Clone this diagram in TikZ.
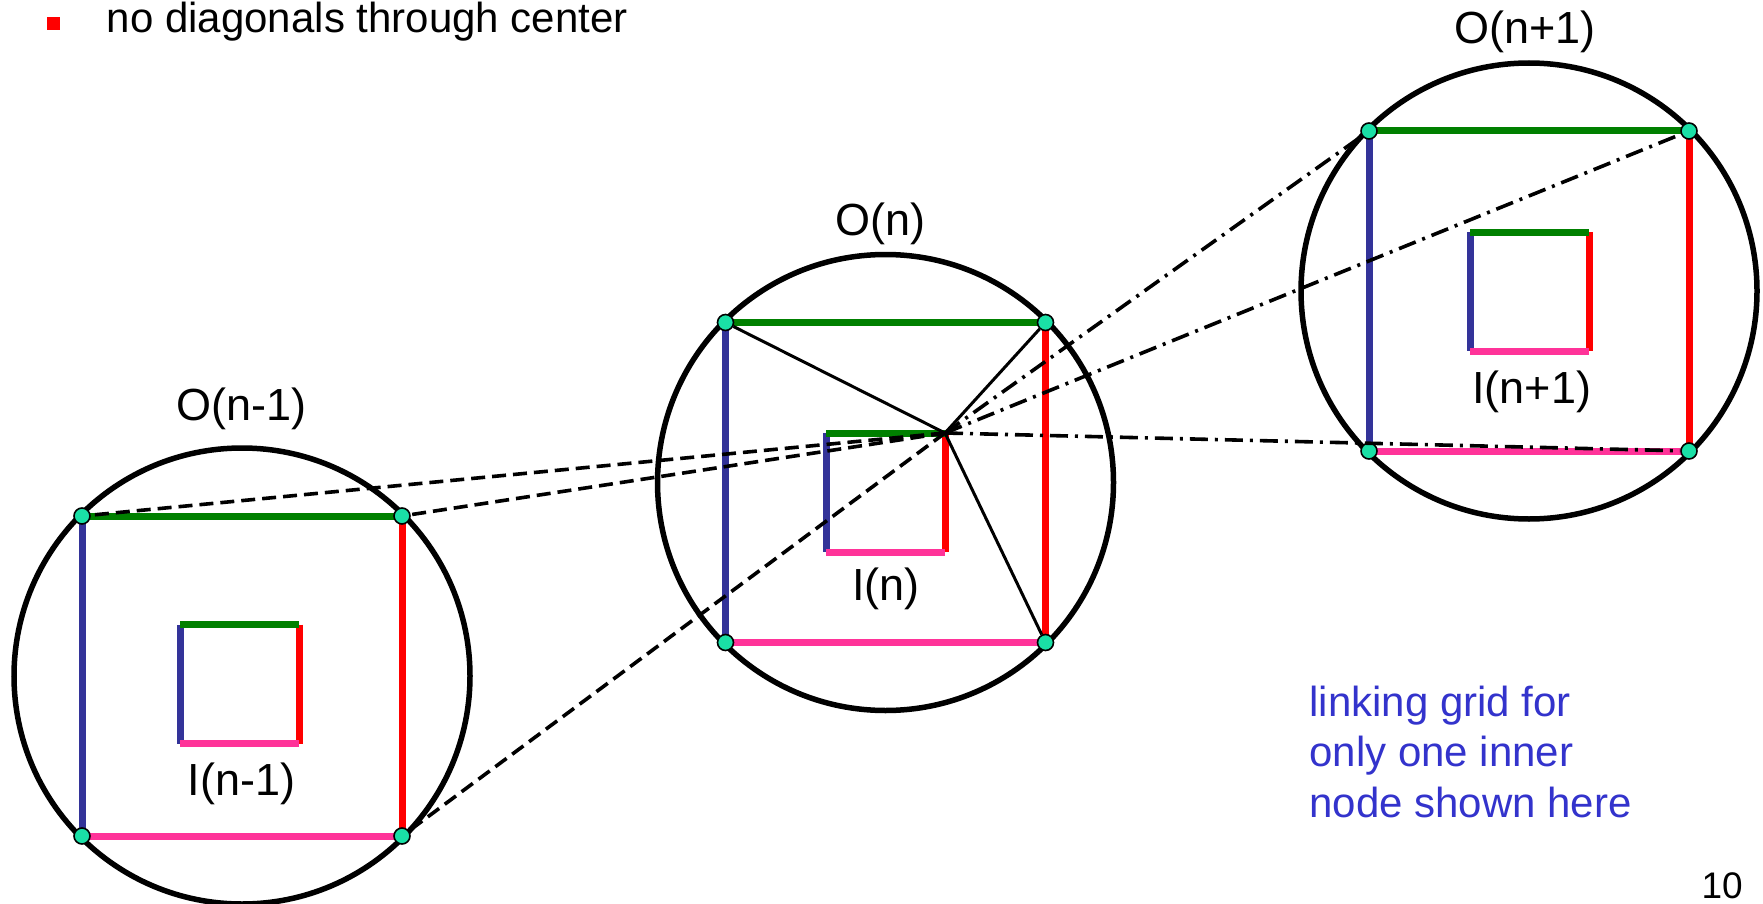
\documentclass[tikz,border=0pt]{standalone}
\usepackage{fontspec}
\setmainfont{Liberation Sans}
\usetikzlibrary{calc}

\definecolor{gridgreen}{RGB}{0,128,0}
\definecolor{gridblue}{RGB}{51,51,153}
\definecolor{gridred}{RGB}{255,0,0}
\definecolor{gridpink}{RGB}{255,51,153}
\definecolor{dotteal}{RGB}{26,224,166}
\definecolor{noteblue}{RGB}{51,51,204}

\begin{document}
\begin{tikzpicture}[
  x=1pt, y=-1pt,
  ring/.style={draw, line width=5.5pt},
  edge/.style={line width=7pt},
  cornerdot/.style={circle, draw=black, line width=1.6pt, fill=dotteal, inner sep=0pt, minimum size=16pt},
  spoke/.style={draw, line width=3pt},
  prevlink/.style={draw, line width=3.6pt, dash pattern=on 14pt off 7pt},
  nextlink/.style={draw, line width=3.6pt, dash pattern=on 18pt off 7pt on 3pt off 7pt},
  lbl/.style={font=\fontsize{45}{54}\selectfont, inner sep=0pt, anchor=base},
]
\useasboundingbox (0,0) rectangle (1763,904);

% === TITLE LINE ===
\node[fill=red, minimum size=13pt, inner sep=0pt] (bullet) at (53.5,24) {};
\node[anchor=base west, inner sep=0pt, font=\fontsize{42}{50}\selectfont] (title) at (106.7,32.7) {no diagonals through center};

% === THREE LEVELS: outer ring O, outer square, inner square I ===
\foreach \nm/\cx/\cy/\ix/\iy in {L/242/676/239.5/684, M/885.5/482.5/885.5/492.5, R/1529/291/1529.5/291.5} {
  \coordinate (\nm) at (\cx,\cy);
  \draw[ring] (\nm) circle[radius=228pt];
  % outer square
  \coordinate (\nm-tl) at (\cx-160,\cy-160);
  \coordinate (\nm-tr) at (\cx+160,\cy-160);
  \coordinate (\nm-bl) at (\cx-160,\cy+160);
  \coordinate (\nm-br) at (\cx+160,\cy+160);
  \draw[edge, gridblue] (\nm-tl) -- (\nm-bl);
  \draw[edge, gridred] (\nm-tr) -- (\nm-br);
  \draw[edge, gridgreen] (\nm-tl) -- (\nm-tr);
  \draw[edge, gridpink] (\nm-bl) -- (\nm-br);
  % inner square
  \coordinate (\nm-itl) at (\ix-59.5,\iy-59.5);
  \coordinate (\nm-itr) at (\ix+59.5,\iy-59.5);
  \coordinate (\nm-ibl) at (\ix-59.5,\iy+59.5);
  \coordinate (\nm-ibr) at (\ix+59.5,\iy+59.5);
  \draw[edge, gridblue] (\nm-itl) -- (\nm-ibl);
  \draw[edge, gridred] (\nm-itr) -- (\nm-ibr);
  \draw[edge, gridgreen] (\nm-itl) -- (\nm-itr);
  \draw[edge, gridpink] (\nm-ibl) -- (\nm-ibr);
  % corner dots
  \node[cornerdot] (\nm-TL) at (\nm-tl) {};
  \node[cornerdot] (\nm-TR) at (\nm-tr) {};
  \node[cornerdot] (\nm-BL) at (\nm-bl) {};
  \node[cornerdot] (\nm-BR) at (\nm-br) {};
}

% labels
\node[lbl] (oprev) at (241.7,420.7) {O(n-1)};
\node[lbl] (ocur)  at (880,235)     {O(n)};
\node[lbl] (onext) at (1525,43.3)   {O(n+1)};
\node[lbl] (iprev) at (241.7,795)   {I(n-1)};
\node[lbl] (icur)  at (886,600)     {I(n)};
\node[lbl] (inext) at (1531.7,403.3) {I(n+1)};

% === LINKS FROM ONE INNER NODE ===
\coordinate (hub) at (M-itr);
\draw[spoke] (hub) -- (M-TL);
\draw[spoke] (hub) -- (M-TR);
\draw[spoke] (hub) -- (M-BR);
\draw[prevlink] (hub) -- (L-TL);
\draw[prevlink] (hub) -- (L-TR);
\draw[prevlink] (hub) -- (L-BR);
\draw[nextlink] (hub) -- (R-TL);
\draw[nextlink] (hub) -- (R-TR);
\draw[nextlink] (hub) -- (R-BR);

\node[anchor=north west, align=left, inner sep=0pt, text=noteblue, font=\fontsize{42}{50.3}\selectfont] (note) at (1309.3,686) {linking grid for\\only one inner\\node shown here};
\node[anchor=base east, inner sep=0pt, font=\fontsize{37}{44}\selectfont] (pagenum) at (1743,898) {10};
\end{tikzpicture}
\end{document}
